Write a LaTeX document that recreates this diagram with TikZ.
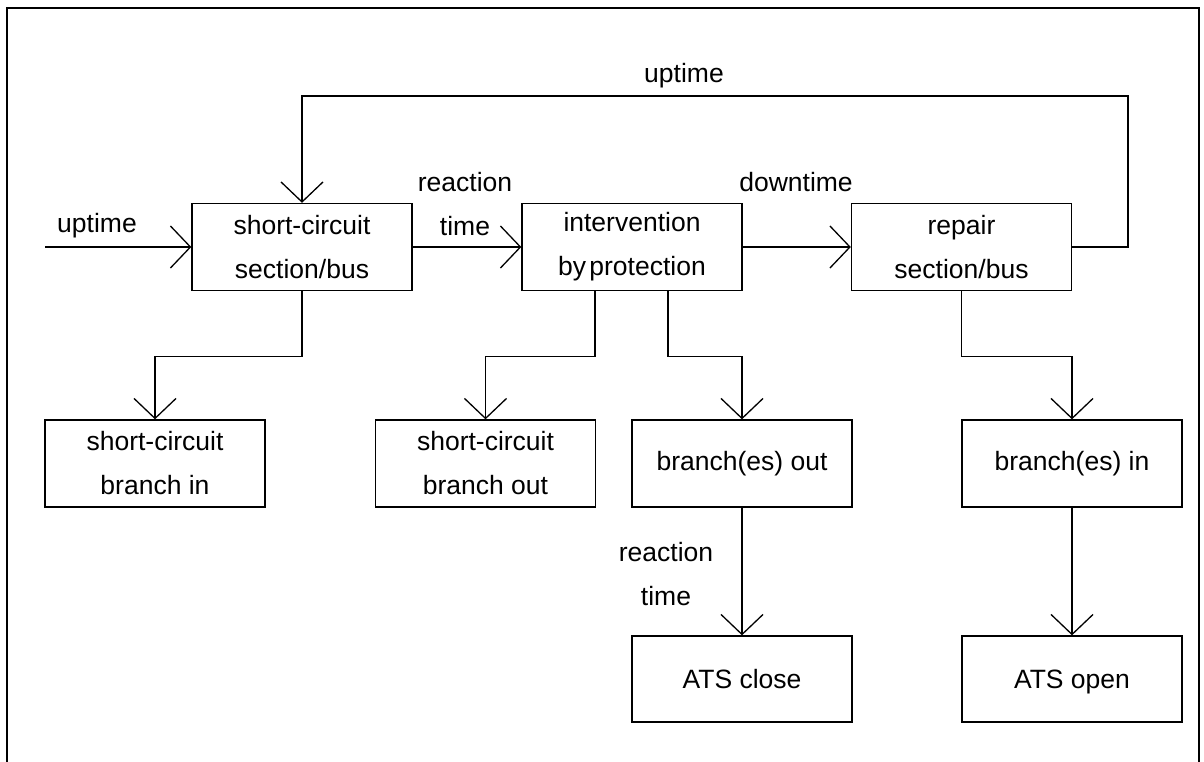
\documentclass[tikz,border=0pt]{standalone}
\usepackage{fontspec}
\setmainfont{Liberation Sans}
\usetikzlibrary{arrows.meta}
\newcommand{\diagfont}{\fontsize{26.5}{44}\selectfont}
\tikzset{
  box/.style={draw, line width=1.3pt, minimum width=220pt, minimum height=87pt,
              inner sep=0pt, align=center, font=\diagfont},
  onelinebox/.style={box, minimum height=86pt, text height=19pt, text depth=0pt},
  flow/.style={line width=1.3pt,
               -{Straight Barb[length=20pt,width=42pt,line width=1.3pt]}},
  lbl/.style={inner sep=0pt, align=center, font=\diagfont},
  frame/.style={line width=1.6pt}
}
\begin{document}
\begin{tikzpicture}[x=1pt,y=-1pt]
\useasboundingbox (0,0) rectangle (1204,762);
% open frame
\draw[frame] (7,762) -- (7,8) -- (1199,8) -- (1199,762);

% top row
\node[box] (A) at (302,247) {short-circuit\\section/bus};
\node[box] (B) at (632,247) {intervention\\by\hspace{0.12em}protection};
\node[box] (C) at (961.5,247) {repair\\section/bus};

% middle row
\node[box] (D) at (155,463.5) {short-circuit\\branch in};
\node[box] (E) at (485.5,463.5) {short-circuit\\branch out};
\node[box] (F) at (742,463.5) {branch(es) out};
\node[box] (G) at (1072,463.5) {branch(es) in};

% bottom row
\node[onelinebox] (H) at (742,679) {ATS close};
\node[onelinebox] (I) at (1072,679) {ATS open};

% labels
\node[lbl, anchor=base] (lin) at (97,233) {uptime};
\node[lbl, anchor=base] (ltop) at (684,83) {uptime};
\node[lbl] (lreact) at (465,204) {reaction\\time};
\node[lbl, anchor=base] (ldown) at (796,192) {downtime};
\node[lbl] (lreact2) at (666,574) {reaction\\time};

% connectors
\coordinate (src) at (45,247);
\coordinate (fbR) at (1128,96);
\coordinate (fbL) at (302,96);
\draw[flow] (src) -- (A.west);
\draw[flow] (A.east) -- (B.west);
\draw[flow] (B.east) -- (C.west);
\draw[flow] (C.east) -| (fbR) -- (fbL) -- (A.north);

\draw[flow] (A.south) -- ++(0,65) -| (D.north);
\draw[flow] ([xshift=-37pt]B.south) -- ++(0,65) -| (E.north);
\draw[flow] ([xshift=36pt]B.south) -- ++(0,65) -| (F.north);
\draw[flow] (C.south) -- ++(0,65) -| (G.north);

\draw[flow] (F.south) -- (H.north);
\draw[flow] (G.south) -- (I.north);
\end{tikzpicture}
\end{document}
